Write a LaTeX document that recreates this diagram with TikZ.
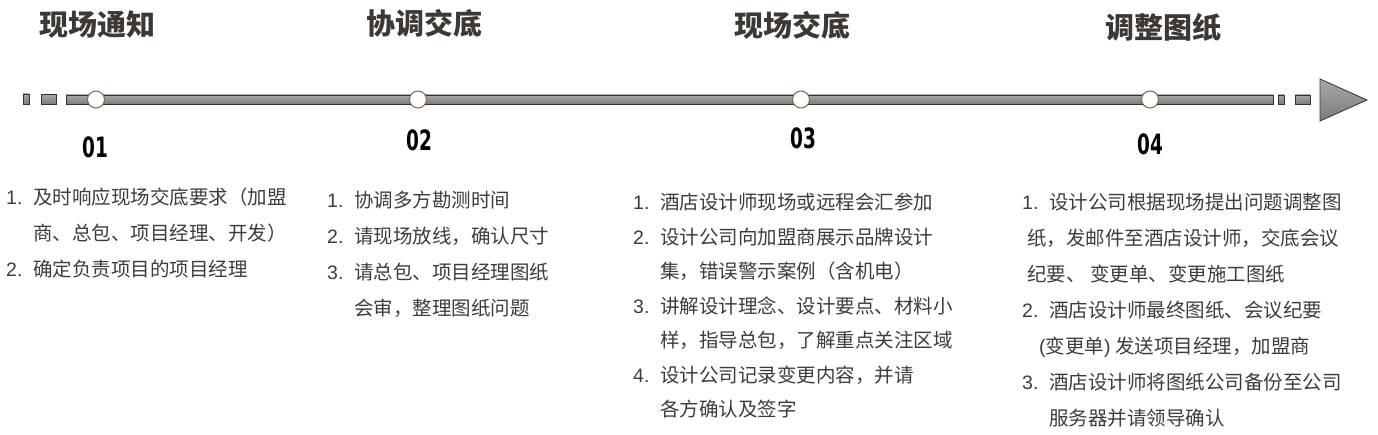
\documentclass[tikz,border=0pt]{standalone}
\usepackage{fontspec}
\setmainfont{Noto Sans CJK SC}
\newfontfamily\latinfont{Liberation Sans}
\newfontfamily\numfont{DejaVu Sans}[FakeStretch=0.66]
\usetikzlibrary{shapes,positioning}
\definecolor{ttlcol}{HTML}{3D3833}
\definecolor{txtcol}{HTML}{3C3C3C}
\definecolor{barcol}{HTML}{8A8A8A}
\definecolor{rimcol}{HTML}{8A6535}
\tikzstyle{bar} = [draw=black!80,line width=0.8pt,top color=barcol!75!white,bottom color=barcol!90!black]
\tikzstyle{stop} = [draw=rimcol,line width=1pt,circle,inner sep=0,minimum size=17pt,fill=white]
\tikzstyle{title} = [font=\fontsize{29}{32}\selectfont\bfseries,text=ttlcol,inner sep=0]
\tikzstyle{stepno} = [font=\numfont\fontsize{28}{30}\selectfont\bfseries,text=black,inner sep=0]
\tikzstyle{body} = [font=\fontsize{19.5}{36}\selectfont,text=txtcol,align=left,inner sep=0,anchor=north west]
\newcommand{\itm}[1]{\makebox[27pt][l]{\latinfont #1}}
\def \ind {\hspace*{27pt}}

\begin{document}
\begin{tikzpicture}[x=1pt,y=1pt]
      \useasboundingbox (0,0) rectangle (1378,-435);
      % timeline
      \draw[bar] (23,-94) rectangle (29,-104);
      \draw[bar] (41,-94.5) rectangle (56,-104);
      \draw[bar] (66,-95) rectangle (1273,-104);
      \draw[bar] (1278,-95) rectangle (1284,-104);
      \draw[bar] (1295,-95) rectangle (1310,-104);
      \draw[bar] (1320,-79) -- (1367,-100) -- (1320,-121) -- cycle;
      \node[stop] (m1) at (96,-99.5) {};
      \node[stop] (m2) at (418,-99.5) {};
      \node[stop] (m3) at (801,-99.5) {};
      \node[stop] (m4) at (1150,-99.5) {};
      % titles
      \node[title] (t1) at (97,-25) {现场通知};
      \node[title] (t2) at (424,-23) {协调交底};
      \node[title] (t3) at (792,-25) {现场交底};
      \node[title] (t4) at (1163,-27) {调整图纸};
      % numbers
      \node[stepno] (n1) at (95,-147) {01};
      \node[stepno] (n2) at (419,-140) {02};
      \node[stepno] (n3) at (803,-138) {03};
      \node[stepno] (n4) at (1150,-144) {04};
      % texts
      \node[body] (c1) at (6,-188) {\itm{1.}及时响应现场交底要求（加盟\\
        \ind 商、总包、项目经理、开发）\\
        \itm{2.}确定负责项目的项目经理};
      \node[body] (c2) at (327,-191) {\itm{1.}协调多方勘测时间\\
        \itm{2.}请现场放线，确认尺寸\\
        \itm{3.}请总包、项目经理图纸\\
        \ind 会审，整理图纸问题};
      \node[body,font=\fontsize{19.5}{34.5}\selectfont] (c3) at (633,-193) {\itm{1.}酒店设计师现场或远程会汇参加\\
        \itm{2.}设计公司向加盟商展示品牌设计\\
        \ind 集，错误警示案例（含机电）\\
        \itm{3.}讲解设计理念、设计要点、材料小\\
        \ind 样，指导总包，了解重点关注区域\\
        \itm{4.}设计公司记录变更内容，并请\\
        \ind 各方确认及签字};
      \node[body] (c4) at (1022,-193) {\itm{1.}设计公司根据现场提出问题调整图\\
        \hspace*{5pt}纸，发邮件至酒店设计师，交底会议\\
        \hspace*{5pt}纪要、 变更单、变更施工图纸\\
        \itm{2.}酒店设计师最终图纸、会议纪要\\
        \hspace*{17pt}{\latinfont(}变更单{\latinfont)} 发送项目经理，加盟商\\
        \itm{3.}酒店设计师将图纸公司备份至公司\\
        \ind 服务器并请领导确认};
\end{tikzpicture}
\end{document}
